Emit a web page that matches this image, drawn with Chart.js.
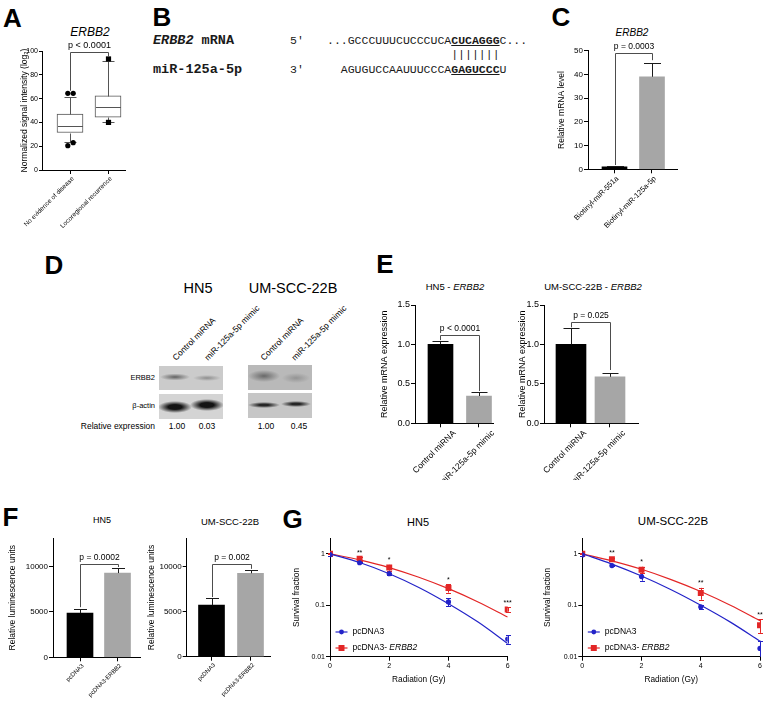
<!DOCTYPE html>
<html>
<head>
<meta charset="utf-8">
<title>ERBB2 figure</title>
<script src="https://cdn.jsdelivr.net/npm/chart.js@4.4.1/dist/chart.umd.min.js"></script>
<style>
  body { margin: 0; width: 765px; height: 703px; position: relative; overflow: hidden; background: #fff;
         font-family: 'Liberation Sans', Arial, sans-serif; color: #000; }
  canvas { position: absolute; }
  .t { position: absolute; white-space: nowrap; line-height: 1; transform: translate(-50%, -50%); }
  .r { transform: translate(-100%, -50%); }
  .letter { font-size: 26px; font-weight: bold; }
  .rot { position: absolute; white-space: nowrap; line-height: 1; font-size: 8.5px; transform-origin: 0 0; transform: rotate(-45deg) translate(0, -50%); }
  .mono { position: absolute; font-family: 'Liberation Mono', 'Courier New', monospace; white-space: pre; line-height: 14.5px; font-size: 11.5px; color: #1a1a1a; }
  .blot { position: absolute; }
</style>
</head>
<body>
<!-- panel letters -->
<div class="t letter" style="left:12.5px;top:18px">A</div>
<div class="t letter" style="left:162px;top:16.5px">B</div>
<div class="t letter" style="left:561px;top:16.5px">C</div>
<div class="t letter" style="left:54px;top:264.5px">D</div>
<div class="t letter" style="left:385px;top:264px">E</div>
<div class="t letter" style="left:10.5px;top:516.5px">F</div>
<div class="t letter" style="left:292.5px;top:518.5px">G</div>

<!-- chart titles -->
<div class="t" style="left:90px;top:32px;font-size:12px;font-style:italic">ERBB2</div>
<div class="t" style="left:632px;top:33px;font-size:10px;font-style:italic">ERBB2</div>
<div class="t" style="left:198px;top:288px;font-size:14.5px">HN5</div>
<div class="t" style="left:293px;top:288px;font-size:14.5px">UM-SCC-22B</div>
<div class="t" style="left:455px;top:287px;font-size:9.5px">HN5 - <i>ERBB2</i></div>
<div class="t" style="left:593px;top:287px;font-size:9.5px">UM-SCC-22B - <i>ERBB2</i></div>
<div class="t" style="left:102px;top:520px;font-size:9px">HN5</div>
<div class="t" style="left:230px;top:522px;font-size:9.5px">UM-SCC-22B</div>
<div class="t" style="left:418px;top:522px;font-size:11px">HN5</div>
<div class="t" style="left:673px;top:522px;font-size:11.5px">UM-SCC-22B</div>

<!-- B: seed match -->
<div class="mono" style="left:153px;top:33.75px;font-weight:bold;font-size:13.5px"><i>ERBB2</i> mRNA

miR-125a-5p</div>
<div class="mono" style="left:290px;top:33.75px">5'

3'</div>
<div class="mono" style="left:327px;top:33.75px">...GCCCUUUCUCCCUCA<b><u>CUCAGGG</u></b>C...
                  |||||||
  AGUGUCCAAUUUCCCA<b><u>GAGUCCC</u></b>U</div>

<!-- D: western blots -->
<div id="panelD"></div>

<canvas id="chartA"></canvas>
<canvas id="chartC"></canvas>
<canvas id="chartE1"></canvas>
<canvas id="chartE2"></canvas>
<canvas id="chartF1"></canvas>
<canvas id="chartF2"></canvas>
<canvas id="chartG1"></canvas>
<canvas id="chartG2"></canvas>

<script>
// ---------- data ----------
// A: box plot, normalized signal intensity
const boxLabels = ['No evidence of disease', 'Locoregional recurrence'];
const boxQ1 = [31.5, 44.3];
const boxMedian = [37, 52.7];
const boxQ3 = [47, 62.4];
const boxWhiskLow = [23.8, 40];
const boxWhiskHigh = [61.6, 91.9];
const boxOutliers = [[64.4, 64.4, 20.4, 23], [93.3, 40]];
const boxMarker = ['circle', 'rect'];

// C: pull-down
const cLabels = ['Biotinyl-miR-551a', 'Biotinyl-miR-125a-5p'];
const cValues = [1.0, 39.0];
const cErrors = [0.3, 5.9];

// D: western blot quantification
const dLanes = ['Control miRNA', 'miR-125a-5p mimic'];
const dHN5 = ['1.00', '0.03'];
const dUM = ['1.00', '0.45'];

// E: qPCR
const eLabels = ['Control miRNA', 'miR-125a-5p mimic'];
const eHN5 = [1.0, 0.346];
const eHN5Err = [0.043, 0.054];
const eUM = [1.0, 0.59];
const eUMErr = [0.204, 0.044];

// F: luciferase
const fLabels = ['pcDNA3', 'pcDNA3-ERBB2'];
const fHN5 = [4856, 9272];
const fHN5Err = [442, 507];
const fUM = [5700, 9230];
const fUMErr = [800, 370];
const fTicks = [0, 5000, 10000];

// G: clonogenic survival
const doses = [0, 1, 2, 4, 6];
const fitDoses = [0, 1, 2, 3, 4, 5, 6];
const gHN5Ctrl = [0.96, 0.67, 0.41, 0.116, 0.022];
const gHN5CtrlErr = [0.05, 0.02, 0.02, 0.02, 0.004];
const gHN5Erbb2 = [1.0, 0.80, 0.54, 0.216, 0.083];
const gHN5Erbb2Err = [0.03, 0.06, 0.07, 0.04, 0.008];
const gHN5CtrlFit = [1.0, 0.677, 0.41, 0.222, 0.107, 0.047, 0.018];
const gHN5Erbb2Fit = [1.0, 0.76, 0.54, 0.35, 0.21, 0.116, 0.059];
const gHN5Stars = ['', '**', '*', '*', '***'];
const gUMCtrl = [0.95, 0.59, 0.36, 0.093, 0.0145];
const gUMCtrlErr = [0.06, 0.02, 0.06, 0.008, 0.006];
const gUMErbb2 = [1.0, 0.78, 0.49, 0.173, 0.041];
const gUMErbb2Err = [0.03, 0.05, 0.07, 0.045, 0.012];
const gUMCtrlFit = [1.0, 0.63, 0.37, 0.20, 0.10, 0.047, 0.020];
const gUMErbb2Fit = [1.0, 0.73, 0.50, 0.315, 0.185, 0.10, 0.05];
const gUMStars = ['', '**', '*', '**', '**'];
const gTicksY = [0.01, 0.1, 1];

// ---------- helpers ----------
const FONT = "'Liberation Sans', Arial, Helvetica, sans-serif";
const BLUE = '#2323c8';
const RED = '#e32626';
const GREY = '#a6a6a6';
Chart.defaults.font.family = FONT;
Chart.defaults.color = '#000';

function place(id, f) {
  const c = document.getElementById(id);
  c.width = f.W; c.height = f.H;
  Object.assign(c.style, {left: f.L + 'px', top: f.T + 'px', width: f.W + 'px', height: f.H + 'px'});
  return c;
}

function px(v) { return Math.round(v) + 0.5; }

function strokePath(ctx, pts) {
  ctx.beginPath();
  pts.forEach(([x, y], i) => i ? ctx.lineTo(x, y) : ctx.moveTo(x, y));
  ctx.stroke();
}

// common axis setup: f = canvas box + plot box in page pixels
function baseOptions(f, xScale, yScale) {
  return {
    responsive: false,
    animation: false,
    devicePixelRatio: 1,
    layout: {autoPadding: false, padding: {left: 0, top: f.yTop - f.T, right: f.L + f.W - f.x1, bottom: 0}},
    plugins: {legend: {display: false}, tooltip: {enabled: false}},
    scales: {
      x: Object.assign({
        offset: false,
        grid: {display: true, offset: false, drawOnChartArea: false, tickLength: 4, color: '#000'},
        border: {display: true, color: '#000'},
        afterFit: s => { s.height = f.T + f.H - f.yBot; }
      }, xScale),
      y: Object.assign({
        grid: {display: true, drawOnChartArea: false, tickLength: f.tick || 4, color: '#000'},
        border: {display: true, color: '#000'},
        afterFit: s => { s.width = f.x0 - f.L; }
      }, yScale)
    }
  };
}

function yTitle(text, size, f, cx) {
  return {display: true, text, color: '#000', font: {size, family: FONT},
          padding: {top: cx - f.L - size * 0.6, bottom: 0}};
}

function catX(labels, f, size, offset) {
  return {
    type: 'linear', min: f.xMin, max: f.xMax,
    afterBuildTicks: s => { s.ticks = labels.map((_, i) => ({value: i})); },
    ticks: {callback: v => labels[v], minRotation: 45, maxRotation: 45, autoSkip: false,
            font: {size}, color: '#000', labelOffset: offset, padding: 1}
  };
}

function bracketPlugin(b, size) {
  return {
    id: 'bracket',
    afterDatasetsDraw(chart) {
      const {ctx, scales: {x, y}} = chart;
      const xl = px(x.getPixelForValue(0)), xr = px(x.getPixelForValue(1));
      const yt = px(y.getPixelForValue(b.top));
      ctx.save();
      ctx.strokeStyle = '#4d4d4d';
      ctx.lineWidth = 1;
      strokePath(ctx, [[xl, y.getPixelForValue(b.left)], [xl, yt], [xr, yt], [xr, y.getPixelForValue(b.right)]]);
      ctx.fillStyle = '#000';
      ctx.font = size + 'px ' + FONT;
      ctx.textAlign = 'center';
      ctx.textBaseline = 'middle';
      ctx.fillText(b.text, (xl + xr) / 2, yt - 6.5);
      ctx.restore();
    }
  };
}

function errorPlugin(values, errors, cap) {
  return {
    id: 'errors',
    afterDatasetsDraw(chart) {
      const {ctx, scales: {x, y}} = chart;
      ctx.save();
      ctx.strokeStyle = '#1a1a1a';
      ctx.lineWidth = 1;
      values.forEach((v, i) => {
        const cx = px(x.getPixelForValue(i));
        const top = px(y.getPixelForValue(v + errors[i]));
        strokePath(ctx, [[cx, y.getPixelForValue(v)], [cx, top]]);
        strokePath(ctx, [[cx - cap, top], [cx + cap, top]]);
      });
      ctx.restore();
    }
  };
}

function barPanel(id, f, o) {
  const opts = baseOptions(f, catX(o.labels, f, o.labelSize, o.labelOffset), {
    min: 0, max: o.yMax,
    afterBuildTicks: o.yTicks ? (s => { s.ticks = o.yTicks.map(v => ({value: v})); }) : undefined,
    ticks: {stepSize: o.step, font: {size: o.tickSize}, color: '#000', padding: 1,
            callback: o.fmt || (v => v)},
    title: yTitle(o.title, o.titleSize, f, o.titleX)
  });
  return new Chart(place(id, f), {
    type: 'bar',
    data: {datasets: [{
      data: o.values.map((v, i) => ({x: i, y: v})),
      backgroundColor: ['#000', GREY],
      barThickness: o.barW,
      borderWidth: 0
    }]},
    options: opts,
    plugins: [errorPlugin(o.values, o.errors, o.cap), bracketPlugin(o.bracket, o.pSize)]
  });
}

// ---------- A: box plot ----------
const fA = {L: 0, T: 20, W: 190, H: 210, x0: 42, x1: 125, yTop: 51, yBot: 170, xMin: -0.737, xMax: 1.447, tick: 3};
const boxPlugin = {
  id: 'box',
  afterDatasetsDraw(chart) {
    const {ctx, scales: {x, y}} = chart;
    const py = v => px(y.getPixelForValue(v));
    ctx.save();
    ctx.strokeStyle = '#555';
    ctx.lineWidth = 1;
    boxLabels.forEach((_, i) => {
      const cx = px(x.getPixelForValue(i));
      strokePath(ctx, [[cx, py(boxQ3[i])], [cx, py(boxWhiskHigh[i])]]);
      strokePath(ctx, [[cx, py(boxQ1[i])], [cx, py(boxWhiskLow[i])]]);
      strokePath(ctx, [[cx - 6, py(boxWhiskHigh[i])], [cx + 6, py(boxWhiskHigh[i])]]);
      strokePath(ctx, [[cx - 6, py(boxWhiskLow[i])], [cx + 6, py(boxWhiskLow[i])]]);
      strokePath(ctx, [[cx - 12.5, py(boxMedian[i])], [cx + 12.5, py(boxMedian[i])]]);
      ctx.fillStyle = '#000';
      boxOutliers[i].forEach((v, k) => {
        const ox = boxOutliers[i].length > 2 ? (k % 2 ? 2.7 : -2.7) : 0;
        const oy = y.getPixelForValue(v);
        ctx.beginPath();
        if (boxMarker[i] === 'circle') ctx.arc(cx + ox, oy, 2.6, 0, Math.PI * 2);
        else ctx.rect(cx + ox - 2.6, oy - 2.6, 5.2, 5.2);
        ctx.fill();
      });
    });
    ctx.restore();
  }
};
const optsA = baseOptions(fA, catX(boxLabels, fA, 6.5, 3), {
  min: 0, max: 100,
  ticks: {stepSize: 20, font: {size: 7}, color: '#000', padding: 1},
  title: yTitle('Normalized signal intensity (log\u2082)', 8.5, fA, 25)
});
new Chart(place('chartA', fA), {
  type: 'bar',
  data: {datasets: [{
    data: boxLabels.map((_, i) => ({x: i, y: [boxQ1[i], boxQ3[i]]})),
    backgroundColor: '#fff', borderColor: '#555', borderWidth: 1, borderSkipped: false,
    barThickness: 26
  }]},
  options: optsA,
  plugins: [boxPlugin, bracketPlugin({top: 99.4, left: 66.6, right: 95.2, text: 'p < 0.0001'}, 9)]
});

// ---------- C ----------
barPanel('chartC',
  {L: 530, T: 20, W: 170, H: 215, x0: 588, x1: 677, yTop: 50.7, yBot: 169.3, xMin: -0.707, xMax: 1.667},
  {labels: cLabels, values: cValues, errors: cErrors, yMax: 50, step: 10, tickSize: 8,
   labelSize: 7.5, labelOffset: 3, title: 'Relative mRNA level', titleSize: 8.5, titleX: 562,
   barW: 25, cap: 8.5, pSize: 8.5, bracket: {top: 48.9, left: 1.8, right: 46.0, text: 'p = 0.0003'}});

// ---------- E ----------
const fmt1 = v => v.toFixed(1);
barPanel('chartE1',
  {L: 370, T: 290, W: 130, H: 190, x0: 415, x1: 493, yTop: 305, yBot: 423.3, xMin: -0.662, xMax: 1.364},
  {labels: eLabels, values: eHN5, errors: eHN5Err, yMax: 1.5, step: 0.5, tickSize: 9, fmt: fmt1,
   labelSize: 8.5, labelOffset: 14, title: 'Relative mRNA expression', titleSize: 9, titleX: 385,
   barW: 25, cap: 8, pSize: 8.5, bracket: {top: 1.12, left: 1.055, right: 0.41, text: 'p < 0.0001'}});
barPanel('chartE2',
  {L: 505, T: 290, W: 140, H: 190, x0: 544, x1: 638, yTop: 305, yBot: 423.3, xMin: -0.692, xMax: 1.718},
  {labels: eLabels, values: eUM, errors: eUMErr, yMax: 1.5, step: 0.5, tickSize: 9, fmt: fmt1,
   labelSize: 8.5, labelOffset: 14, title: 'Relative mRNA expression', titleSize: 9, titleX: 523,
   barW: 30, cap: 8, pSize: 8.5, bracket: {top: 1.29, left: 1.217, right: 0.676, text: 'p = 0.025'}});

// ---------- F ----------
barPanel('chartF1',
  {L: 0, T: 525, W: 150, H: 178, x0: 53, x1: 140, yTop: 538.3, yBot: 657.3, xMin: -0.72, xMax: 1.6},
  {labels: fLabels, values: fHN5, errors: fHN5Err, yMax: 13100, yTicks: fTicks, tickSize: 8,
   labelSize: 6, labelOffset: 3, title: 'Relative luminescence units', titleSize: 8.5, titleX: 13,
   barW: 26, cap: 6.5, pSize: 8.5, bracket: {top: 10265, left: 5519, right: 9934, text: 'p = 0.0002'}});
barPanel('chartF2',
  {L: 140, T: 525, W: 140, H: 178, x0: 186.7, x1: 270, yTop: 538.3, yBot: 656.7, xMin: -0.636, xMax: 1.5},
  {labels: fLabels, values: fUM, errors: fUMErr, yMax: 13100, yTicks: fTicks, tickSize: 8,
   labelSize: 6, labelOffset: 3, title: 'Relative luminescence units', titleSize: 8.5, titleX: 152,
   barW: 26, cap: 6.5, pSize: 8.5, bracket: {top: 10280, left: 6600, right: 9720, text: 'p = 0.002'}});

// ---------- G ----------
function survivalPanel(id, f, s) {
  const series = [
    {values: s.ctrl, errors: s.ctrlErr, color: BLUE, style: 'circle', name: 'pcDNA3'},
    {values: s.erbb2, errors: s.erbb2Err, color: RED, style: 'rect', name: 'pcDNA3- '}
  ];
  const extras = {
    id: 'survival',
    beforeDatasetsDraw(chart) {
      const {ctx, chartArea: a, scales: {x, y}} = chart;
      ctx.save();
      ctx.beginPath();
      ctx.rect(a.left - 6, a.top - 20, a.width + 12, a.height + 20);
      ctx.clip();
      ctx.lineWidth = 1;
      series.forEach(se => {
        ctx.strokeStyle = se.color;
        se.values.forEach((v, i) => {
          const cx = px(x.getPixelForValue(doses[i]));
          const yt = y.getPixelForValue(v + se.errors[i]);
          const yb = y.getPixelForValue(Math.max(v - se.errors[i], 1e-4));
          strokePath(ctx, [[cx, yt], [cx, yb]]);
          strokePath(ctx, [[cx - 2.5, px(yt)], [cx + 2.5, px(yt)]]);
          strokePath(ctx, [[cx - 2.5, px(yb)], [cx + 2.5, px(yb)]]);
        });
      });
      ctx.restore();
    },
    afterDatasetsDraw(chart) {
      const {ctx, chartArea: a, scales: {x, y}} = chart;
      ctx.save();
      ctx.fillStyle = '#000';
      ctx.font = '7px ' + FONT;
      ctx.textAlign = 'center';
      ctx.textBaseline = 'bottom';
      s.stars.forEach((st, i) => {
        if (!st) return;
        const top = y.getPixelForValue(s.erbb2[i] + s.erbb2Err[i]);
        ctx.fillText(st, x.getPixelForValue(doses[i]), top - 1);
      });
      // legend
      ctx.textAlign = 'left';
      ctx.textBaseline = 'middle';
      series.forEach((se, k) => {
        const ly = a.bottom - (k ? 8.7 : 24.7);
        const lx = a.left + 5.5;
        ctx.strokeStyle = se.color;
        ctx.fillStyle = se.color;
        ctx.lineWidth = 1.2;
        strokePath(ctx, [[lx, ly], [lx + 12, ly]]);
        ctx.beginPath();
        if (se.style === 'circle') ctx.arc(lx + 6, ly, 2.4, 0, Math.PI * 2);
        else ctx.rect(lx + 3, ly - 3, 6, 6);
        ctx.fill();
        ctx.fillStyle = '#000';
        ctx.font = '8.5px ' + FONT;
        ctx.fillText(se.name, lx + 17, ly);
        if (k) {
          const w = ctx.measureText(se.name).width;
          ctx.font = 'italic 8.5px ' + FONT;
          ctx.fillText('ERBB2', lx + 17 + w, ly);
        }
      });
      ctx.restore();
    }
  };
  const opts = baseOptions(f, {
    type: 'linear', min: 0, max: 6,
    ticks: {stepSize: 2, font: {size: 7}, color: '#000', padding: 1},
    title: {display: true, text: 'Radiation (Gy)', font: {size: 8.3}, color: '#000',
            padding: {top: 0, bottom: f.T + f.H - 680 - 5}}
  }, {
    type: 'logarithmic', min: 0.01, max: 2,
    afterBuildTicks: sc => { sc.ticks = gTicksY.map(v => ({value: v})); },
    ticks: {font: {size: 7}, color: '#000', padding: 1, callback: v => String(v)},
    title: yTitle('Survival fraction', 8.3, f, s.titleX)
  });
  const line = (ds, ys, color) => ({data: ds.map((d, i) => ({x: d, y: ys[i]})), borderColor: color,
    borderWidth: 1.2, pointRadius: 0, cubicInterpolationMode: 'monotone'});
  const pts = (ys, color, style, r) => ({data: doses.map((d, i) => ({x: d, y: ys[i]})), showLine: false,
    pointStyle: style, pointRadius: r, backgroundColor: color, borderColor: color, borderWidth: 0});
  return new Chart(place(id, f), {
    type: 'line',
    data: {datasets: [
      pts(s.ctrl, BLUE, 'circle', 2.6),
      line(fitDoses, s.ctrlFit, BLUE),
      pts(s.erbb2, RED, 'rect', 4.2),
      line(fitDoses, s.erbb2Fit, RED)
    ]},
    options: opts,
    plugins: [extras]
  });
}

survivalPanel('chartG1',
  {L: 280, T: 525, W: 240, H: 178, x0: 330, x1: 507.7, yTop: 538.3, yBot: 656.7},
  {ctrl: gHN5Ctrl, ctrlErr: gHN5CtrlErr, erbb2: gHN5Erbb2, erbb2Err: gHN5Erbb2Err,
   ctrlFit: gHN5CtrlFit, erbb2Fit: gHN5Erbb2Fit, stars: gHN5Stars, titleX: 297});
survivalPanel('chartG2',
  {L: 535, T: 525, W: 235, H: 178, x0: 582.3, x1: 760, yTop: 538.3, yBot: 656.7},
  {ctrl: gUMCtrl, ctrlErr: gUMCtrlErr, erbb2: gUMErbb2, erbb2Err: gUMErbb2Err,
   ctrlFit: gUMCtrlFit, erbb2Fit: gUMErbb2Fit, stars: gUMStars, titleX: 548});

// ---------- D: blots (drawn with CSS gradients) ----------
(function buildD() {
  const d = document.getElementById('panelD');
  const add = (html) => d.insertAdjacentHTML('beforeend', html);
  const blots = [
    // HN5 ERBB2
    [159, 366, 64, 24, '#cbcbcb',
     'radial-gradient(ellipse 15px 3.5px at 16px 11px, rgba(70,70,70,.8), rgba(70,70,70,0)),' +
     'radial-gradient(ellipse 14px 3px at 48px 12px, rgba(100,100,100,.6), rgba(100,100,100,0))'],
    // HN5 beta-actin
    [159, 394, 64, 25, '#d4d4d4',
     'radial-gradient(ellipse 17px 6px at 16px 13px, rgba(10,10,10,.95) 40%, rgba(10,10,10,0)),' +
     'radial-gradient(ellipse 17px 6px at 48px 11px, rgba(10,10,10,.95) 40%, rgba(10,10,10,0))'],
    // UM ERBB2
    [248, 365, 64, 25, '#b9b9b9',
     'radial-gradient(ellipse 16px 6px at 16px 11px, rgba(70,70,70,.7), rgba(70,70,70,0)),' +
     'radial-gradient(ellipse 14px 5px at 48px 13px, rgba(110,110,110,.5), rgba(110,110,110,0))'],
    // UM beta-actin
    [248, 393, 64, 25, '#c6c6c6',
     'radial-gradient(ellipse 16px 3px at 16px 12px, rgba(20,20,20,.9) 30%, rgba(20,20,20,0)),' +
     'radial-gradient(ellipse 15px 3px at 48px 11px, rgba(20,20,20,.9) 30%, rgba(20,20,20,0))']
  ];
  blots.forEach(([l, t, w, h, bg, img]) =>
    add(`<div class="blot" style="left:${l}px;top:${t}px;width:${w}px;height:${h}px;background:${img},${bg}"></div>`));
  add('<div class="t r" style="left:155px;top:378px;font-size:7.5px">ERBB2</div>');
  add('<div class="t r" style="left:155px;top:406px;font-size:7.5px">\u03b2-actin</div>');
  add('<div class="t r" style="left:155px;top:426px;font-size:8.5px">Relative expression</div>');
  const laneX = [[174, 206], [262, 293]];
  const vals = [dHN5, dUM];
  const valX = [[177, 207], [266, 299]];
  laneX.forEach((xs, b) => xs.forEach((x, i) => {
    add(`<div class="rot" style="left:${x}px;top:359px">${dLanes[i]}</div>`);
    add(`<div class="t" style="left:${valX[b][i]}px;top:426px;font-size:8.5px">${vals[b][i]}</div>`);
  }));
})();
</script>
</body>
</html>
